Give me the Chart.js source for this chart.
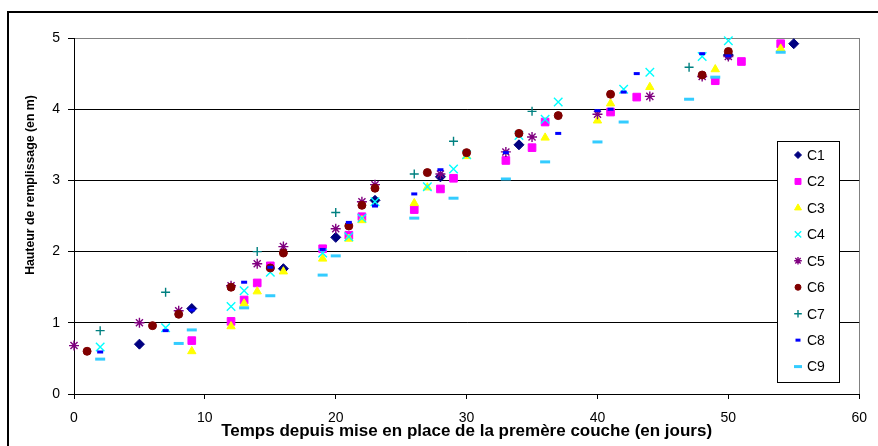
<!DOCTYPE html>
<html><head><meta charset="utf-8">
<script src="https://cdn.jsdelivr.net/npm/chart.js@4.4.0/dist/chart.umd.min.js"></script>
<style>html,body{margin:0;padding:0;background:#fff}</style>
</head><body>
<canvas id="c" width="878" height="446"></canvas>
<script>
const seriesNames = ['C1','C2','C3','C4','C5','C6','C7','C8','C9'];
const c1x = [5, 9, 16, 20, 23, 28, 34, 50, 55];
const c1y = [0.70, 1.20, 1.76, 2.20, 2.72, 3.05, 3.50, 4.76, 4.92];
const c2x = [9, 12, 13, 14, 15, 19, 21, 22, 26, 28, 29, 33, 35, 36, 41, 43, 49, 51, 54];
const c2y = [0.75, 1.02, 1.32, 1.56, 1.80, 2.04, 2.23, 2.49, 2.59, 2.88, 3.03, 3.28, 3.46, 3.82, 3.96, 4.17, 4.40, 4.67, 4.92];
const c3x = [9, 12, 13, 14, 16, 19, 21, 22, 26, 27, 30, 36, 40, 41, 44, 49, 54];
const c3y = [0.60, 0.95, 1.27, 1.44, 1.72, 1.90, 2.18, 2.44, 2.68, 2.90, 3.34, 3.60, 3.84, 4.08, 4.31, 4.56, 4.85];
const c4x = [2, 7, 12, 13, 15, 19, 21, 22, 23, 27, 29, 30, 34, 36, 37, 42, 44, 48, 50];
const c4y = [0.66, 0.93, 1.23, 1.45, 1.71, 1.98, 2.21, 2.47, 2.70, 2.91, 3.16, 3.36, 3.63, 3.86, 4.10, 4.28, 4.52, 4.74, 4.96];
const c5x = [0, 5, 8, 12, 14, 16, 20, 22, 23, 28, 33, 35, 40, 44, 48, 50];
const c5y = [0.68, 1.00, 1.17, 1.52, 1.83, 2.07, 2.32, 2.70, 2.94, 3.09, 3.40, 3.61, 3.93, 4.18, 4.46, 4.74];
const c6x = [1, 6, 8, 12, 15, 16, 21, 22, 23, 27, 30, 34, 37, 41, 48, 50];
const c6y = [0.60, 0.96, 1.12, 1.50, 1.77, 1.98, 2.36, 2.65, 2.89, 3.11, 3.39, 3.66, 3.91, 4.21, 4.48, 4.81];
const c7x = [2, 7, 14, 20, 26, 29, 35, 47];
const c7y = [0.89, 1.43, 2.00, 2.55, 3.09, 3.55, 3.97, 4.59];
const c8x = [2, 7, 9, 13, 15, 19, 21, 23, 26, 28, 33, 37, 40, 41, 42, 43, 48, 50];
const c8y = [0.59, 0.89, 1.18, 1.57, 1.78, 2.03, 2.41, 2.64, 2.81, 3.15, 3.39, 3.66, 3.98, 4.00, 4.24, 4.50, 4.78, 4.75];
const c9x = [2, 8, 9, 13, 15, 19, 20, 26, 29, 33, 36, 40, 42, 47, 49, 54];
const c9y = [0.49, 0.71, 0.90, 1.21, 1.38, 1.67, 1.94, 2.47, 2.75, 3.02, 3.26, 3.54, 3.82, 4.14, 4.45, 4.80];
const xTicks = [0, 10, 20, 30, 40, 50, 60];
const yTicks = [0, 1, 2, 3, 4, 5];
const xTitle = 'Temps depuis mise en place de la premère couche (en jours)';
const yTitle = 'Hauteur de remplissage (en m)';

const xs = [c1x,c2x,c3x,c4x,c5x,c6x,c7x,c8x,c9x];
const ys = [c1y,c2y,c3y,c4y,c5y,c6y,c7y,c8y,c9y];
const styles = [
  {pointStyle:'rectRot', r:5, fill:'#000080', stroke:'#000080', bw:1, lr:3.5},
  {pointStyle:'rect', r:5.4, fill:'#FF00FF', stroke:'#FF00FF', bw:1, lr:4.2},
  {pointStyle:'triangle', r:4.8, fill:'#FFFF00', stroke:'#FFFF00', bw:1, lr:4},
  {pointStyle:'crossRot', r:6, fill:'#00FFFF', stroke:'#00FFFF', bw:1.4, lr:4.5},
  {pointStyle:'star', r:5, fill:'#800080', stroke:'#800080', bw:1.4, lr:3.8},
  {pointStyle:'circle', r:4, fill:'#800000', stroke:'#800000', bw:1, lr:3},
  {pointStyle:'cross', r:4.5, fill:'#008080', stroke:'#008080', bw:1.4, lr:3.8},
  {pointStyle:'line', r:3, fill:'#0000FF', stroke:'#0000FF', bw:3, lr:2.5},
  {pointStyle:'line', r:5, fill:'#33CCFF', stroke:'#33CCFF', bw:3, lr:4}
];

const datasets = seriesNames.map((name, i) => ({
  label: name,
  data: xs[i].map((x, k) => ({x: x, y: ys[i][k]})),
  pointStyle: styles[i].pointStyle,
  pointRadius: styles[i].r,
  pointHoverRadius: styles[i].r,
  backgroundColor: styles[i].fill,
  borderColor: styles[i].stroke,
  pointBorderWidth: styles[i].bw,
  borderWidth: styles[i].bw,
  order: 9 - i,
  clip: false,
  showLine: false
}));

const FONT = "'Liberation Sans', Arial, sans-serif";
Chart.defaults.font.family = FONT;
Chart.defaults.color = '#000';

const framePlugin = {
  id: 'frame',
  beforeDraw(chart) {
    const ctx = chart.ctx;
    ctx.save();
    ctx.fillStyle = '#fff';
    ctx.fillRect(0, 0, chart.width, chart.height);
    ctx.strokeStyle = '#000';
    ctx.lineWidth = 2;
    ctx.strokeRect(8, 12, 900, 500);
    ctx.restore();
  },
  afterDraw(chart) {
    const ctx = chart.ctx;
    ctx.save();
    ctx.font = "bold 12.3px " + FONT;
    ctx.fillStyle = '#000';
    ctx.textAlign = 'center';
    ctx.textBaseline = 'middle';
    ctx.translate(31, 185);
    ctx.rotate(-Math.PI / 2);
    ctx.fillText(yTitle, 0, 0);
    ctx.restore();
    ctx.save();
    const lx = 777.5, ly = 141.5, lw = 62, lh = 241;
    ctx.fillStyle = '#fff';
    ctx.fillRect(lx, ly, lw, lh);
    ctx.strokeStyle = '#000';
    ctx.lineWidth = 1;
    ctx.strokeRect(lx, ly, lw, lh);
    ctx.font = "14px " + FONT;
    ctx.textAlign = 'left';
    ctx.textBaseline = 'middle';
    seriesNames.forEach((name, i) => {
      const yy = 155 + i * 26.45;
      const st = styles[i];
      ctx.fillStyle = st.fill;
      ctx.strokeStyle = st.stroke;
      ctx.lineWidth = st.bw;
      Chart.helpers.drawPoint(ctx, {pointStyle: st.pointStyle, radius: st.lr, rotation: 0, borderWidth: st.bw}, 798, yy);
      ctx.fillStyle = '#000';
      ctx.fillText(name, 807, yy + 1);
    });
    ctx.restore();
  }
};

new Chart(document.getElementById('c'), {
  type: 'scatter',
  data: { datasets: datasets },
  plugins: [framePlugin],
  options: {
    responsive: false,
    animation: false,
    devicePixelRatio: 1,
    layout: { padding: { left: 0, right: 9, top: 38, bottom: 0 } },
    plugins: { legend: { display: false }, tooltip: { enabled: false } },
    scales: {
      x: {
        type: 'linear', min: 0, max: 60,
        afterFit(scale) { scale.height = 52; },
        afterBuildTicks(scale) { scale.ticks = xTicks.map(v => ({value: v})); },
        ticks: { font: { size: 14 }, padding: 11, color: '#000', maxRotation: 0 },
        grid: {
          color: (c) => (c.tick && c.tick.value === 60) ? '#808080' : 'rgba(0,0,0,0)',
          tickColor: '#000', tickLength: 5, lineWidth: 1
        },
        border: { color: '#000', width: 1 },
        title: { display: true, text: xTitle, font: { size: 17, weight: 'bold' }, color: '#000', padding: { top: 0, bottom: 4 } }
      },
      y: {
        type: 'linear', min: 0, max: 5,
        afterFit(scale) { scale.width = 74; },
        afterBuildTicks(scale) { scale.ticks = yTicks.map(v => ({value: v})); },
        ticks: { font: { size: 14 }, padding: 8, color: '#000' },
        grid: {
          color: (c) => (c.tick && c.tick.value === 5) ? '#808080' : '#000',
          tickColor: '#000', tickLength: 6, lineWidth: 1
        },
        border: { color: '#000', width: 1 }
      }
    }
  }
});
</script>
</body></html>
